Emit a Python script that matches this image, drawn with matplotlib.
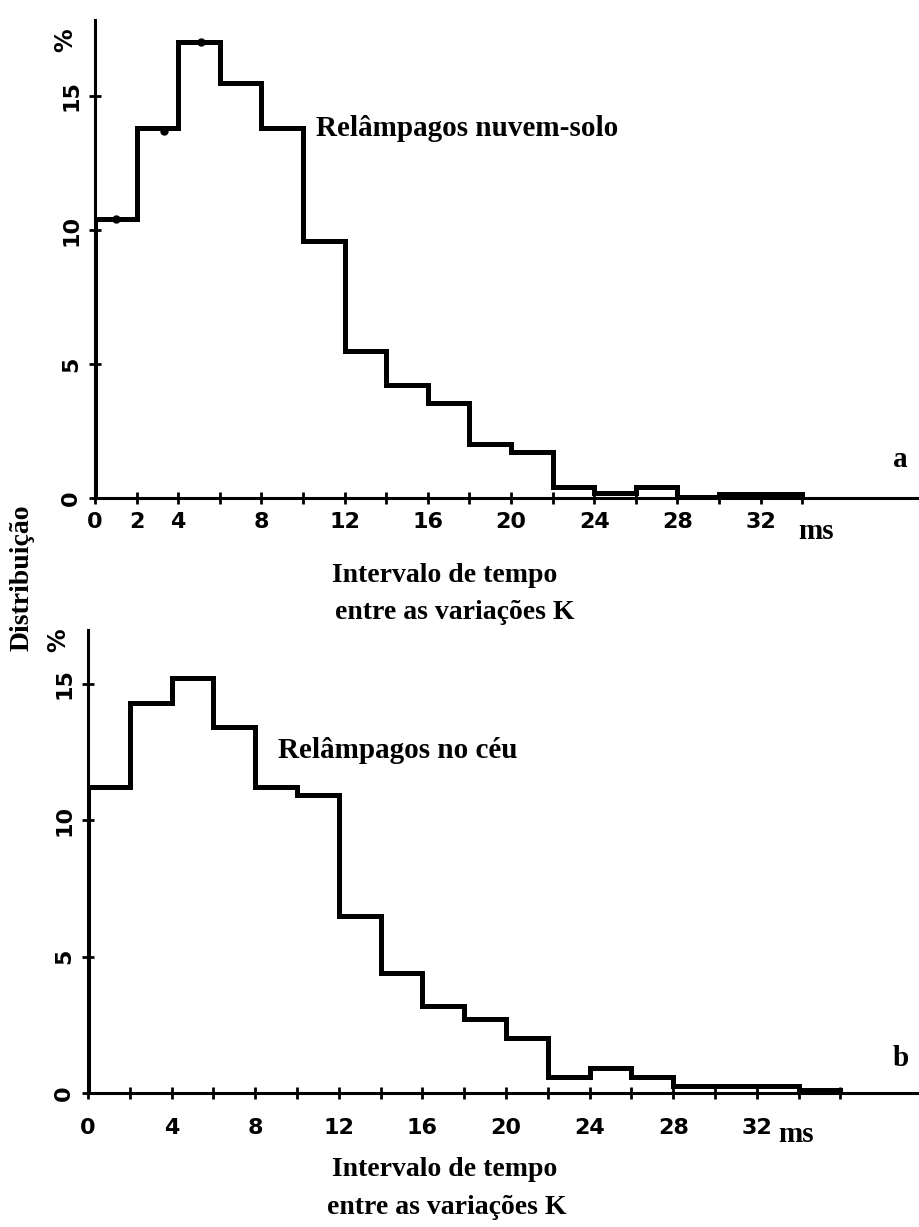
import matplotlib.pyplot as plt
import numpy as np

# bin edges (ms) and distribution (%)
edges_a = np.arange(0, 36, 2)
dist_a = [10.4, 13.8, 17.0, 15.5, 13.8, 9.6, 5.5, 4.2, 3.55, 2.0, 1.7,
          0.4, 0.2, 0.4, 0.05, 0.15, 0.15]
edges_b = np.arange(0, 38, 2)
dist_b = [11.2, 14.3, 15.2, 13.4, 11.2, 10.9, 6.5, 4.4, 3.2, 2.7, 2.0,
          0.6, 0.9, 0.6, 0.25, 0.25, 0.25, 0.1]
dots_x = [1.0, 3.3, 5.1]
dots_y = [10.4, 13.7, 17.0]

xlabels_a = {0: '0', 2: '2', 4: '4', 8: '8', 12: '12', 16: '16', 20: '20',
             24: '24', 28: '28', 32: '32'}
xlabels_b = {0: '0', 4: '4', 8: '8', 12: '12', 16: '16', 20: '20',
             24: '24', 28: '28', 32: '32'}
yticks = [0, 5, 10, 15]

W, H = 919, 1227
serif = 'Liberation Serif'


def fx(x):
    return x / W


def fy(y):
    return 1 - y / H


fig = plt.figure(figsize=(W / 100, H / 100), dpi=100)


def panel(rect, xmax, ymax, edges, dist, labels, pad, pct_y):
    ax = fig.add_axes(rect)
    ax.stairs(dist, edges, baseline=0, color='black', lw=3.6)
    ax.set_xlim(0, xmax)
    ax.set_ylim(0, ymax)
    for s in ['top', 'right']:
        ax.spines[s].set_visible(False)
    for s in ['left', 'bottom']:
        ax.spines[s].set_linewidth(2.2)
    ticks = edges
    ax.set_xticks(ticks)
    ax.set_xticklabels([labels.get(int(t), '') for t in ticks],
                       fontsize=16, fontweight='heavy', family='DejaVu Sans')
    ax.set_yticks(yticks)
    ax.set_yticklabels([str(t) for t in yticks], rotation=90, va='center',
                       fontsize=16, fontweight='heavy', family='DejaVu Sans')
    ax.tick_params(axis='both', direction='inout', length=8, width=2)
    ax.tick_params(axis='x', pad=pad)
    ax.tick_params(axis='y', pad=6)
    ax.text(-0.85, pct_y, '%', rotation=90, ha='right', va='center',
            fontsize=17, fontweight='heavy')
    return ax


axA = panel([fx(95), fy(498), 1 - fx(95), fy(20) - fy(498)],
            (W - 95) / 20.8, 478 / 26.8, edges_a, dist_a, xlabels_a, 6, 17.1)
axA.plot(dots_x, dots_y, 'o', color='black', ms=5)

axB = panel([fx(88), fy(1093), 1 - fx(88), fy(630) - fy(1093)],
            (W - 88) / 20.9, 463 / 27.3, edges_b, dist_b, xlabels_b, 14, 16.6)

tf = dict(family=serif, fontweight='bold', color='black')
fig.text(fx(316), fy(128), 'Relâmpagos nuvem-solo', ha='left', va='center',
         fontsize=21, **tf)
fig.text(fx(278), fy(751), 'Relâmpagos no céu', ha='left', va='center',
         fontsize=21, **tf)
fig.text(fx(893), fy(460), 'a', ha='left', va='center', fontsize=21, **tf)
fig.text(fx(893), fy(1058), 'b', ha='left', va='center', fontsize=21, **tf)
fig.text(fx(798), fy(531), 'ms', ha='left', va='center', fontsize=21, **tf)
fig.text(fx(778), fy(1134), 'ms', ha='left', va='center', fontsize=21, **tf)
fig.text(fx(445), fy(576), 'Intervalo de tempo', ha='center', va='center',
         fontsize=20, **tf)
fig.text(fx(455), fy(612), 'entre as variações K', ha='center', va='center',
         fontsize=20, **tf)
fig.text(fx(445), fy(1169), 'Intervalo de tempo', ha='center', va='center',
         fontsize=20, **tf)
fig.text(fx(447), fy(1207), 'entre as variações K', ha='center', va='center',
         fontsize=20, **tf)
fig.text(fx(22), fy(578), 'Distribuição', rotation=90, ha='center',
         va='center', fontsize=20, **tf)

fig.savefig('out.png', dpi=100)
